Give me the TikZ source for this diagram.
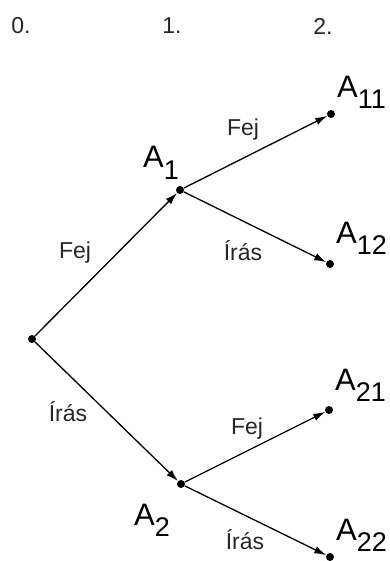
\documentclass[tikz,border=0pt]{standalone}
\usepackage{fontspec}
\setmainfont{Liberation Sans}
\usetikzlibrary{arrows.meta}
\newcommand{\Aind}[1]{A\raisebox{-11pt}{\fontsize{27}{27}\selectfont #1}}
\tikzset{
  pont/.style={circle, fill=black, inner sep=0pt, minimum size=8pt},
  el/.style={line width=1.3pt, -{Latex[length=12pt,width=7.5pt]}},
  cimke/.style={font=\fontsize{23}{23}\selectfont, text=black!85},
  betu/.style={font=\fontsize{31}{31}\selectfont, inner sep=0pt, anchor=base west}
}
\begin{document}
\begin{tikzpicture}[x=1pt,y=-1pt]
\useasboundingbox (0,0) rectangle (390,561);
% szintek
\node[cimke] (sz0) at (21,26) {0.};
\node[cimke] (sz1) at (172,26) {1.};
\node[cimke] (sz2) at (323,26) {2.};
% pontok
\node[pont] (r) at (32,339) {};
\node[pont] (a1) at (180,190) {};
\node[pont] (a2) at (181,484) {};
\node[pont] (a11) at (331,114) {};
\node[pont] (a12) at (330,264) {};
\node[pont] (a21) at (329,410) {};
\node[pont] (a22) at (330,557) {};
% elek
\draw[el] (r) -- (a1);
\draw[el] (r) -- (a2);
\draw[el] (a1) -- (a11);
\draw[el] (a1) -- (a12);
\draw[el] (a2) -- (a21);
\draw[el] (a2) -- (a22);
% feliratok
\node[cimke] (f1) at (75,253) {Fej};
\node[cimke] (i1) at (68,412) {Írás};
\node[cimke] (f11) at (243,130) {Fej};
\node[cimke] (i12) at (243,251) {Írás};
\node[cimke] (f21) at (247,429) {Fej};
\node[cimke] (i22) at (245,540) {Írás};
% esemenyek
\node[betu] (la1) at (143,168) {\Aind{1}};
\node[betu] (la2) at (134,525) {\Aind{2}};
\node[betu] (la11) at (337,98) {\Aind{11}};
\node[betu] (la12) at (336,243) {\Aind{12}};
\node[betu] (la21) at (335,390) {\Aind{21}};
\node[betu] (la22) at (336,540) {\Aind{22}};
\end{tikzpicture}
\end{document}
